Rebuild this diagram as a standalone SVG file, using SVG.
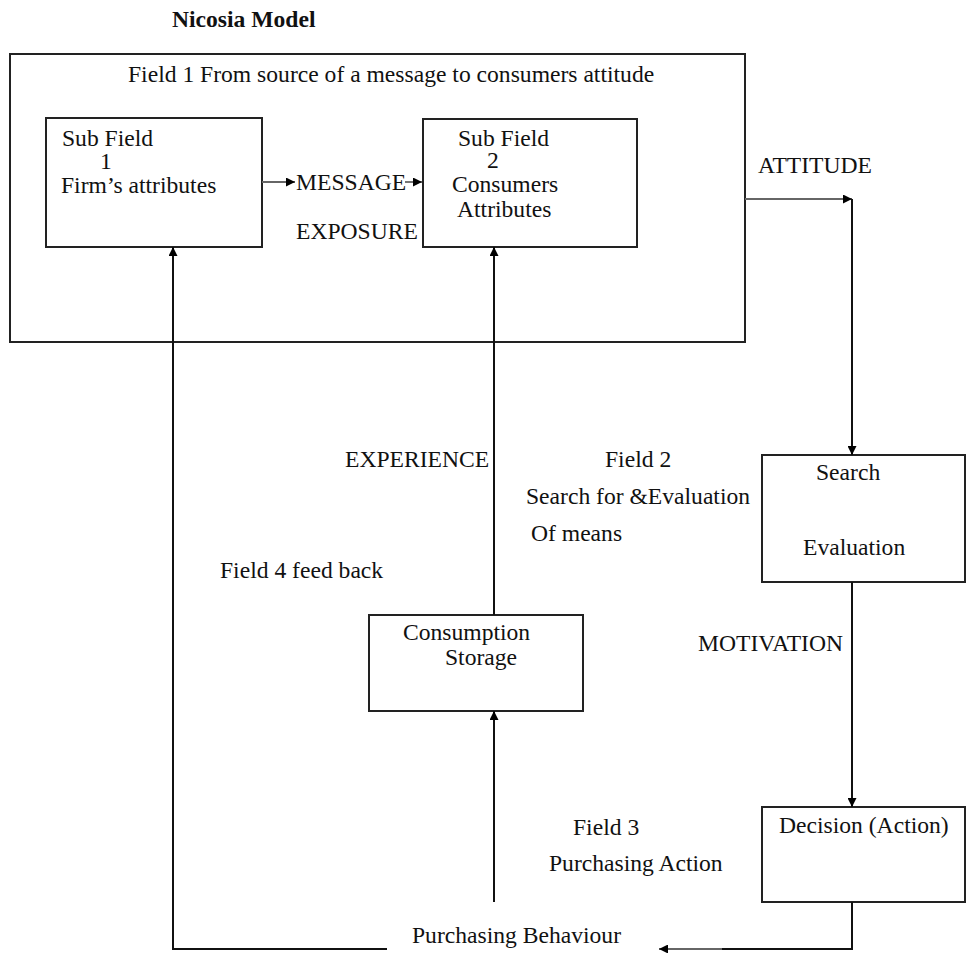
<svg xmlns="http://www.w3.org/2000/svg" width="966" height="953" viewBox="0 0 966 953">
<style>
text{font-family:"Liberation Serif","Times New Roman",serif;font-size:23.6px;fill:#111}
.box{fill:#fff;stroke:#222;stroke-width:2}
.c{fill:none;stroke:#111;stroke-width:2}
.g{fill:none;stroke:#666;stroke-width:1.8}
</style>
<defs>
<marker id="ah" viewBox="0 0 10 10" refX="10" refY="5" markerWidth="10" markerHeight="9" markerUnits="userSpaceOnUse" orient="auto"><path d="M0,0 L10,5 L0,10 Z" fill="#000"/></marker>
</defs>
<text x="172" y="27" style="font-weight:bold">Nicosia Model</text>
<g id="field1">
<rect class="box" x="10" y="54" width="735" height="288" fill="none"/>
<text x="128" y="82">Field 1  From source of a message to consumers attitude</text>
</g>
<g id="subfield1">
<rect class="box" x="46" y="118" width="216" height="129"/>
<text x="62" y="146">Sub Field</text>
<text x="100" y="169">1</text>
<text x="61" y="193">Firm’s attributes</text>
</g>
<g id="subfield2">
<rect class="box" x="423" y="119" width="214" height="128"/>
<text x="458" y="146">Sub Field</text>
<text x="487" y="168">2</text>
<text x="452" y="192">Consumers</text>
<text x="457" y="217">Attributes</text>
</g>
<g id="search">
<rect class="box" x="762" y="455" width="203" height="127"/>
<text x="816" y="480">Search</text>
<text x="803" y="555">Evaluation</text>
</g>
<g id="consumption">
<rect class="box" x="369" y="615" width="214" height="96"/>
<text x="403" y="640">Consumption</text>
<text x="445" y="665">Storage</text>
</g>
<g id="decision">
<rect class="box" x="762" y="807" width="203" height="95"/>
<text x="779" y="833">Decision (Action)</text>
</g>
<g id="connectors">
<line class="g" x1="262" y1="182" x2="295" y2="182" marker-end="url(#ah)"/>
<line class="g" x1="405" y1="182" x2="422" y2="182" marker-end="url(#ah)"/>
<line class="g" x1="745" y1="199" x2="852" y2="199" marker-end="url(#ah)"/>
<line class="c" x1="852" y1="199" x2="852" y2="455" marker-end="url(#ah)"/>
<line class="c" x1="852" y1="582" x2="852" y2="807" marker-end="url(#ah)"/>
<polyline class="c" points="852,902 852,949 720,949" />
<line class="g" x1="722" y1="949" x2="659" y2="949" marker-end="url(#ah)"/>
<polyline class="c" points="387,949 173,949 173,247" marker-end="url(#ah)"/>
<line class="c" x1="494" y1="902" x2="494" y2="711" marker-end="url(#ah)"/>
<line class="c" x1="494" y1="615" x2="494" y2="247" marker-end="url(#ah)"/>
</g>
<g id="labels">
<text x="296" y="190">MESSAGE</text>
<text x="296" y="239">EXPOSURE</text>
<text x="758" y="173">ATTITUDE</text>
<text x="345" y="467">EXPERIENCE</text>
<text x="605" y="467">Field 2</text>
<text x="526" y="504">Search for &amp;Evaluation</text>
<text x="531" y="541">Of means</text>
<text x="220" y="578">Field 4 feed back</text>
<text x="698" y="651">MOTIVATION</text>
<text x="573" y="835">Field 3</text>
<text x="549" y="871">Purchasing Action</text>
<text x="412" y="943">Purchasing  Behaviour</text>
</g>
</svg>
